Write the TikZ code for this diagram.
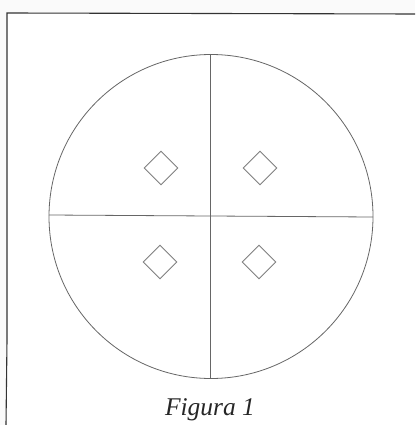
\documentclass[tikz,border=0pt]{standalone}
\usepackage{fontspec}
\setmainfont{Liberation Serif}
\usetikzlibrary{shapes.geometric}
\begin{document}
\begin{tikzpicture}[x=1pt,y=-1pt,
  thin line/.style={draw=black!60,line width=0.8pt},
  frame line/.style={draw=black!80,line width=1.1pt},
  gem/.style={draw=black!50,line width=0.9pt,diamond,minimum width=34pt,minimum height=34pt,inner sep=0pt},
  caption/.style={font=\fontsize{25.5}{28}\selectfont\itshape,text=black!85,inner sep=0pt}]
\useasboundingbox (0,0) rectangle (415,425);
\fill[black!2] (0,0) rectangle (415,425);
\fill[white] (7,13) rectangle (415,425);
% frame
\coordinate (tl) at (7,13);
\coordinate (tr) at (415,14);
\coordinate (bl) at (6,425);
\draw[frame line] (tr) -- (tl) -- (7,340) -- (bl);
% circle and cross
\coordinate (c) at (211,216.5);
\node[thin line,circle,minimum size=324pt,inner sep=0pt] (circ) at (c) {};
\coordinate (L) at (49,215);
\coordinate (R) at (373,217);
\coordinate (T) at (210.5,54);
\coordinate (B) at (210.5,379);
\draw[thin line] (L) -- (R);
\draw[thin line] (T) -- (B);
% diamonds
\node[gem] (d1) at (161,168) {};
\node[gem] (d2) at (260,168) {};
\node[gem] (d3) at (160,262) {};
\node[gem] (d4) at (259,262) {};
% caption
\node[caption,anchor=base] (cap) at (210,415) {Figura 1};
\end{tikzpicture}
\end{document}
